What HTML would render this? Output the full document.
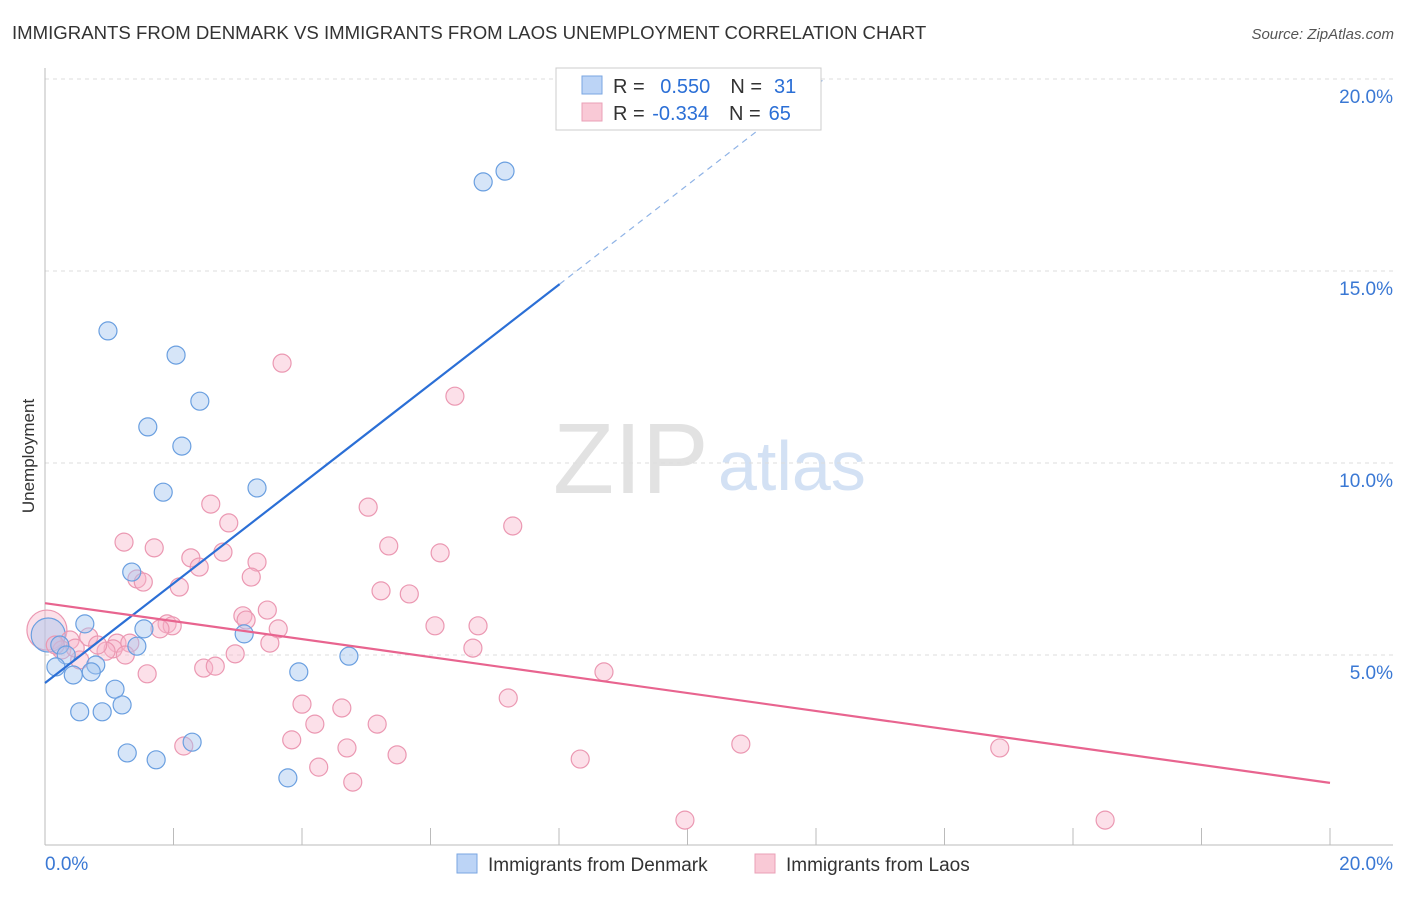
<!DOCTYPE html>
<html><head><meta charset="utf-8"><style>
body{margin:0;background:#fff;font-family:"Liberation Sans",sans-serif;}
svg text{font-family:"Liberation Sans",sans-serif;}
</style></head><body>
<svg id="c" width="1406" height="892">
<text x="12" y="39" font-size="18.6" fill="#333">IMMIGRANTS FROM DENMARK VS IMMIGRANTS FROM LAOS UNEMPLOYMENT CORRELATION CHART</text>
<text x="1394" y="39" font-size="15" fill="#555" text-anchor="end" font-style="italic">Source: ZipAtlas.com</text>
<text x="34" y="456" font-size="17" fill="#333" text-anchor="middle" transform="rotate(-90 34 456)">Unemployment</text>
<text x="553" y="493" font-size="100" fill="#e2e2e2" font-family="Liberation Serif">ZIP</text>
<text x="718" y="490" font-size="70" fill="#d3e1f4">atlas</text>
<g id="grid"></g><g id="axes"></g><g id="pts"></g><g id="lines"></g>
<g>
<rect x="556" y="68" width="265" height="62" fill="#fff" stroke="#ccc"/>
<rect x="582" y="76" width="20" height="18" fill="#bcd4f6" stroke="#7aa6e2"/>
<rect x="582" y="103" width="20" height="18" fill="#f9c9d6" stroke="#eaa0b7"/>
<text x="613" y="93" font-size="20" fill="#333">R = <tspan fill="#2b6fd6" dx="10">0.550</tspan><tspan fill="#333" dx="20">N =</tspan><tspan fill="#2b6fd6" dx="12">31</tspan></text>
<text x="613" y="120" font-size="20" fill="#333">R = <tspan fill="#2b6fd6" dx="2">-0.334</tspan><tspan fill="#333" dx="20">N =</tspan><tspan fill="#2b6fd6" dx="8">65</tspan></text>
</g>
<g>
<rect x="457" y="854" width="20" height="19" fill="#bcd4f6" stroke="#7aa6e2"/>
<text x="488" y="871" font-size="19" fill="#333">Immigrants from Denmark</text>
<rect x="755" y="854" width="20" height="19" fill="#f9c9d6" stroke="#eaa0b7"/>
<text x="786" y="871" font-size="19" fill="#333">Immigrants from Laos</text>
</g>
</svg>
<script>
const yTicks=[5,10,15,20];
const yTickLabels=["5.0%","10.0%","15.0%","20.0%"];
const xTickCount=10;
const blueX=[7.16,6.82,0.98,2.04,2.41,1.60,2.13,1.84,3.30,1.35,1.54,0.62,1.43,3.10,0.23,0.33,0.79,0.17,0.44,0.72,3.95,4.73,1.09,1.20,0.54,0.89,1.28,1.73,2.29,3.78];
const blueY=[17.6,17.32,13.44,12.81,11.61,10.94,10.44,9.24,9.35,7.16,5.68,5.81,5.23,5.55,5.26,5.0,4.74,4.69,4.48,4.56,4.56,4.97,4.11,3.70,3.52,3.52,2.45,2.27,2.73,1.80];
const pinkX=[3.69,6.38,2.58,2.86,5.03,7.28,1.23,1.70,5.35,6.15,2.27,2.77,3.30,2.40,1.43,1.53,3.21,2.09,5.23,5.67,3.08,3.46,3.13,1.90,1.98,1.79,3.63,6.07,6.74,0.68,0.39,1.12,1.32,1.06,0.95,6.66,2.96,0.26,0.54,3.50,1.59,2.47,2.65,8.70,4.00,4.62,7.21,4.20,5.17,3.84,2.16,4.70,10.83,14.86,8.33,5.48,4.26,4.79,9.96,16.50,0.16,0.47,0.82,1.25];
const pinkY=[12.60,11.74,8.93,8.44,8.85,8.36,7.94,7.79,7.84,7.66,7.53,7.68,7.42,7.29,6.98,6.90,7.03,6.77,6.67,6.59,6.02,6.17,5.91,5.81,5.76,5.68,5.68,5.76,5.76,5.47,5.39,5.31,5.31,5.16,5.10,5.18,5.03,5.13,4.87,5.31,4.51,4.66,4.71,4.56,3.72,3.62,3.88,3.20,3.20,2.79,2.63,2.58,2.68,2.58,2.29,2.40,2.08,1.69,0.70,0.70,5.26,5.18,5.26,5.0];
const bigBlue=[0.05,5.52];
const bigPink=[0.03,5.65];
const blueFit=[4.27,1.297];
const pinkFit=[6.35,-0.234];
const NS="http://www.w3.org/2000/svg";
const X=v=>45+v*64.25, Y=v=>847-v*38.4;
function mk(t,a,p){const e=document.createElementNS(NS,t);for(const k in a)e.setAttribute(k,a[k]);p.appendChild(e);return e;}
const grid=document.getElementById('grid'),axes=document.getElementById('axes'),pts=document.getElementById('pts'),lines=document.getElementById('lines');
yTicks.forEach((t,i)=>{
 const l=mk('line',{x1:45,x2:1393,y1:Y(t),y2:Y(t),stroke:'#ddd','stroke-dasharray':'4,4'},grid);
 
 
 const tx=mk('text',{x:1393,y:Y(t)+24,'font-size':19,fill:'#3a78d4','text-anchor':'end'},grid);tx.textContent=yTickLabels[i];
 
 
});
mk('line',{x1:45,x2:45,y1:68,y2:845,stroke:'#bbb'},axes);
mk('line',{x1:45,x2:1393,y1:845,y2:845,stroke:'#bbb'},axes);
for(let i=0;i<=xTickCount;i++){const x=X(i*2);const l=mk('line',{x1:x,x2:x,y1:828,y2:845,stroke:'#bbb'},axes);
 
 }
let t1=mk('text',{x:45,y:870,'font-size':19,fill:'#3a78d4'},axes);t1.textContent='0.0%';


let t2=mk('text',{x:1393,y:870,'font-size':19,fill:'#3a78d4','text-anchor':'end'},axes);t2.textContent='20.0%';


function dot(x,y,r,blue,name){const c=mk('circle',{cx:X(x),cy:Y(y),r:r,fill:blue?'rgba(164,198,240,0.45)':'rgba(248,182,202,0.42)',stroke:blue?'#6a9fe0':'#eb98b2','stroke-width':1.2},pts);
 
 }
dot(bigPink[0],bigPink[1],20,false,'laos-point-large');
dot(bigBlue[0],bigBlue[1],17,true,'denmark-point-large');
pinkX.forEach((x,i)=>dot(x,pinkY[i],9,false,'laos-point'));
blueX.forEach((x,i)=>dot(x,blueY[i],9,true,'denmark-point'));
const bx1=8.01;
let b=mk('line',{x1:X(0),y1:Y(blueFit[0]),x2:X(bx1),y2:Y(blueFit[0]+blueFit[1]*bx1),stroke:'#2b6fd6','stroke-width':2.2},lines);


const bx2=12.1;
let bd=mk('line',{x1:X(bx1),y1:Y(blueFit[0]+blueFit[1]*bx1),x2:X(bx2),y2:Y(blueFit[0]+blueFit[1]*bx2),stroke:'#8fb3e6','stroke-width':1.2,'stroke-dasharray':'6,5'},lines);


let p=mk('line',{x1:X(0),y1:Y(pinkFit[0]),x2:X(20),y2:Y(pinkFit[0]+pinkFit[1]*20),stroke:'#e8648f','stroke-width':2.2},lines);


</script>
</body></html>
